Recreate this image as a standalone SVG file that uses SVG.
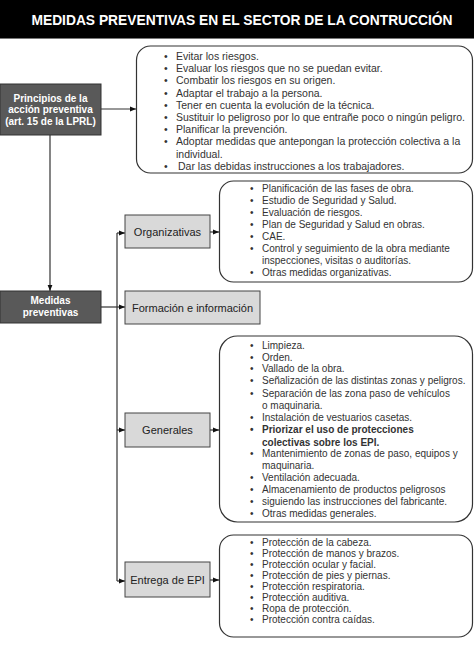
<svg xmlns="http://www.w3.org/2000/svg" width="474" height="645" viewBox="0 0 474 645">
<defs>
<style>
.title{font-family:"Liberation Sans",Arial,sans-serif;font-size:13.8px;font-weight:bold;fill:#fff}
.dark{fill:#595959;stroke:#333;stroke-width:1}
.dt{font-family:"Liberation Sans",Arial,sans-serif;font-size:10px;font-weight:bold;fill:#fff;text-anchor:middle}
.light{fill:#d9d9d9;stroke:#444;stroke-width:1}
.lt{font-family:"Liberation Sans",Arial,sans-serif;font-size:11px;fill:#222;text-anchor:middle}
.list{fill:#fff;stroke:#333;stroke-width:1.2}
.li{font-family:"Liberation Sans",Arial,sans-serif;font-size:10px;fill:#333}
.li1{font-size:10.5px}
.b{font-weight:bold}
.conn path{fill:none;stroke:#333;stroke-width:1.2}
</style>
<marker id="arr" viewBox="0 0 10 10" refX="10" refY="5" markerWidth="6" markerHeight="6" orient="auto" markerUnits="userSpaceOnUse">
<path d="M0,1 L10,5 L0,9 z" fill="#111"/>
</marker>
</defs>
<rect width="474" height="645" fill="#fff"/>
<g id="title">
<rect x="0" y="0" width="474" height="38" fill="#000"/>
<line x1="0" y1="38.5" x2="474" y2="38.5" stroke="#777" stroke-width="1"/>
<text class="title" x="242" y="25" text-anchor="middle">MEDIDAS PREVENTIVAS EN EL SECTOR DE LA CONTRUCCIÓN</text>
</g>
<g class="conn" id="connectors">
<path d="M101,109 H136" marker-end="url(#arr)"/>
<path d="M50,135 V291" marker-end="url(#arr)"/>
<path d="M101,307 H125" marker-end="url(#arr)"/>
<path d="M117,233 V581"/>
<path d="M117,233 H125" marker-end="url(#arr)"/>
<path d="M117,430 H125" marker-end="url(#arr)"/>
<path d="M117,581 H125" marker-end="url(#arr)"/>
<path d="M210,232 H219" marker-end="url(#arr)"/>
<path d="M210,430 H219" marker-end="url(#arr)"/>
<path d="M210,580 H219" marker-end="url(#arr)"/>
</g>
<g id="principios">
<rect class="dark" x="0" y="84" width="101" height="51"/>
<text class="dt" x="50.5" y="101.5">Principios de la</text>
<text class="dt" x="50.5" y="113">acción preventiva</text>
<text class="dt" x="50.5" y="124.5">(art. 15 de la LPRL)</text>
</g>
<g id="principios-list">
<rect class="list" x="136.5" y="46" width="336" height="127" rx="14"/>
<g class="li li1">
<text x="164" y="60">•</text><text x="176" y="60">Evitar los riesgos.</text>
<text x="164" y="72.2">•</text><text x="176" y="72.2">Evaluar los riesgos que no se puedan evitar.</text>
<text x="164" y="84.4">•</text><text x="176" y="84.4">Combatir los riesgos en su origen.</text>
<text x="164" y="96.6">•</text><text x="176" y="96.6">Adaptar el trabajo a la persona.</text>
<text x="164" y="108.8">•</text><text x="176" y="108.8">Tener en cuenta la evolución de la técnica.</text>
<text x="164" y="121">•</text><text x="176" y="121">Sustituir lo peligroso por lo que entrañe poco o ningún peligro.</text>
<text x="164" y="133.2">•</text><text x="176" y="133.2">Planificar la prevención.</text>
<text x="164" y="145.4">•</text><text x="176" y="145.4">Adoptar medidas que antepongan la protección colectiva a la</text>
<text x="176" y="157.6">individual.</text>
<text x="164" y="169.8">•</text><text x="178" y="169.8">Dar las debidas instrucciones a los trabajadores.</text>
</g>
</g>
<g id="medidas">
<rect class="dark" x="0" y="291" width="101" height="32"/>
<text class="dt" x="50.5" y="304">Medidas</text>
<text class="dt" x="50.5" y="316">preventivas</text>
</g>
<g id="organizativas">
<rect class="light" x="125" y="215" width="85" height="33"/>
<text class="lt" x="167.5" y="235.5">Organizativas</text>
</g>
<g id="organizativas-list">
<rect class="list" x="219.5" y="181" width="253" height="101" rx="14"/>
<g class="li">
<text x="250" y="192">•</text><text x="262" y="192">Planificación de las fases de obra.</text>
<text x="250" y="204">•</text><text x="262" y="204">Estudio de Seguridad y Salud.</text>
<text x="250" y="216">•</text><text x="262" y="216">Evaluación de riesgos.</text>
<text x="250" y="228">•</text><text x="262" y="228">Plan de Seguridad y Salud en obras.</text>
<text x="250" y="240">•</text><text x="262" y="240">CAE.</text>
<text x="250" y="252">•</text><text x="262" y="252">Control y seguimiento de la obra mediante</text>
<text x="262" y="264">inspecciones, visitas o auditorías.</text>
<text x="250" y="276">•</text><text x="262" y="276">Otras medidas organizativas.</text>
</g>
</g>
<g id="formacion">
<rect class="light" x="125" y="291" width="135" height="33"/>
<text class="lt" x="192.5" y="311.5">Formación e información</text>
</g>
<g id="generales">
<rect class="light" x="125" y="413" width="85" height="34"/>
<text class="lt" x="167.5" y="434">Generales</text>
</g>
<g id="generales-list">
<rect class="list" x="219.5" y="336" width="253" height="186" rx="18"/>
<g class="li">
<text x="250" y="348.5">•</text><text x="262" y="348.5">Limpieza.</text>
<text x="250" y="360.5">•</text><text x="262" y="360.5">Orden.</text>
<text x="250" y="372">•</text><text x="262" y="372">Vallado de la obra.</text>
<text x="250" y="384">•</text><text x="262" y="384">Señalización de las distintas zonas y peligros.</text>
<text x="250" y="396.5">•</text><text x="262" y="396.5">Separación de las zona paso de vehículos</text>
<text x="262" y="408.5">o maquinaria.</text>
<text x="250" y="421">•</text><text x="262" y="421">Instalación de vestuarios casetas.</text>
<text x="250" y="433" class="b">•</text><text x="262" y="433" class="b">Priorizar el uso de protecciones</text>
<text x="262" y="445.5" class="b">colectivas sobre los EPI.</text>
<text x="250" y="457">•</text><text x="262" y="457">Mantenimiento de zonas de paso, equipos y</text>
<text x="262" y="469">maquinaria.</text>
<text x="250" y="481">•</text><text x="262" y="481">Ventilación adecuada.</text>
<text x="250" y="493">•</text><text x="262" y="493">Almacenamiento de productos peligrosos</text>
<text x="250" y="505">•</text><text x="262" y="505">siguiendo las instrucciones del fabricante.</text>
<text x="250" y="517">•</text><text x="262" y="517">Otras medidas generales.</text>
</g>
</g>
<g id="entrega">
<rect class="light" x="125" y="562" width="85" height="35"/>
<text class="lt" x="167.5" y="584">Entrega de EPI</text>
</g>
<g id="entrega-list">
<rect class="list" x="219.5" y="535" width="253" height="102" rx="14"/>
<g class="li">
<text x="250" y="545.5">•</text><text x="262" y="545.5">Protección de la cabeza.</text>
<text x="250" y="556.5">•</text><text x="262" y="556.5">Protección de manos y brazos.</text>
<text x="250" y="567.5">•</text><text x="262" y="567.5">Protección ocular y facial.</text>
<text x="250" y="579">•</text><text x="262" y="579">Protección de pies y piernas.</text>
<text x="250" y="590">•</text><text x="262" y="590">Protección respiratoria.</text>
<text x="250" y="601">•</text><text x="262" y="601">Protección auditiva.</text>
<text x="250" y="611.5">•</text><text x="262" y="611.5">Ropa de protección.</text>
<text x="250" y="622.5">•</text><text x="262" y="622.5">Protección contra caídas.</text>
</g>
</g>
</svg>
